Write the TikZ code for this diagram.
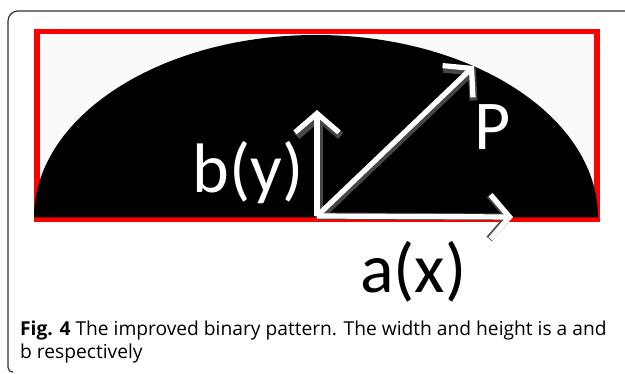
\documentclass[tikz,border=0pt]{standalone}
\usepackage{fontspec}
\setmainfont{Open Sans}
\newfontfamily\labelfont{Carlito}
\usepackage{xcolor}
\usetikzlibrary{arrows.meta, positioning, calc}

\tikzset{
  vecshade/.style={draw=gray!55!black, line width=8pt, -{Straight Barb[length=19pt,width=44pt]}},
  vecwhite/.style={draw=white, line width=5.2pt, -{Straight Barb[length=19pt,width=44pt]}},
  biglabel/.style={font=\labelfont\fontsize{70}{70}\selectfont, inner sep=0pt}
}

\begin{document}
\begin{tikzpicture}[x=1pt, y=1pt]
    \useasboundingbox (0,0) rectangle (625,373);

    % Outer panel frame (left and top edge)
    \draw[line width=1.2pt, black!80] (13,0.8) arc[start angle=270, end angle=180, radius=5pt]
        -- (8,352) arc[start angle=180, end angle=90, radius=10pt] -- (626,362);

    % Red bounding frame
    \draw[red, line width=5.5pt, fill=gray!4] (37,154) rectangle (597,341.5);

    % Binary pattern (half ellipse)
    \fill[black] (34,155.5) arc[start angle=180, end angle=0, x radius=282pt, y radius=182.5pt] -- cycle;

    % Vector end points
    \coordinate (O) at (317,157);
    \coordinate (ytip) at (317,263);
    \coordinate (xtip) at (513,156);
    \coordinate (ptip) at (474,307);

    % Arrows: shadow layer, then white layer
    \draw[vecshade, transform canvas={shift={(1.8pt,-1.8pt)}}] (O) -- (ytip);
    \draw[vecshade, transform canvas={shift={(1.8pt,-1.8pt)}}] (O) -- (ptip);
    \draw[vecshade, draw=gray!60!black, line width=7pt] (O) -- (xtip);
    \draw[vecwhite] (O) -- (ytip);
    \draw[vecwhite] (O) -- (ptip);
    \draw[vecwhite] (O) -- (xtip);

    % Labels
    \node[biglabel, white, anchor=base east] (blabel) at (304,180) {b(y)};
    \node[biglabel, white, anchor=base west] (plabel) at (474,223) {P};
    \node[biglabel, black, anchor=base west] (alabel) at (360,81) {a(x)};

    % Caption
    \node[anchor=base west, inner sep=0pt, align=left, font=\fontsize{19.2}{23}\selectfont] (caption) at (20,15)
        {\textbf{Fig. 4} The improved binary pattern. The width and height is a and\\b respectively};
\end{tikzpicture}
\end{document}
